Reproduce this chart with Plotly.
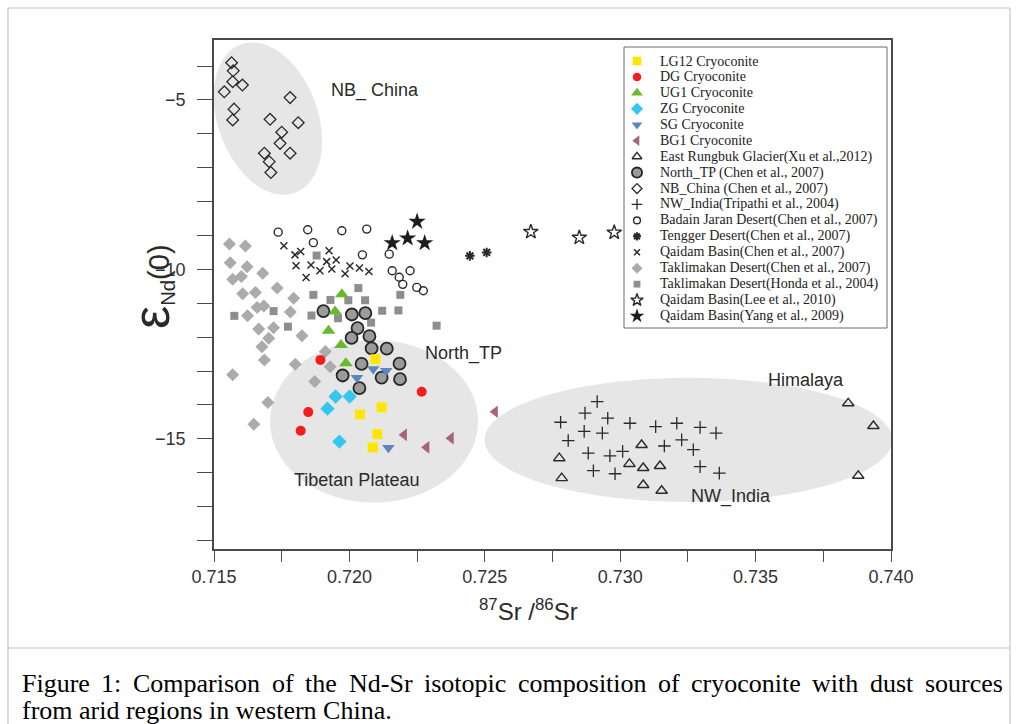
import numpy as np
import plotly.graph_objects as go

# ---------------------------------------------------------------
# 87Sr/86Sr (x) and eNd(0) (y) for every sample group
# ---------------------------------------------------------------
lg12_sr = [0.72096, 0.72039, 0.72119, 0.72103, 0.72086]
lg12_nd = [-12.65, -14.28, -14.07, -14.86, -15.25]

dg_sr = [0.71893, 0.72267, 0.71848, 0.71820]
dg_nd = [-12.67, -13.61, -14.21, -14.76]

ug1_sr = [0.71972, 0.71947, 0.71923, 0.71969, 0.71987]
ug1_nd = [-10.73, -11.24, -11.81, -12.23, -12.77]

zg_sr = [0.71949, 0.72001, 0.71919, 0.71963]
zg_nd = [-13.75, -13.75, -14.11, -15.08]

sg_sr = [0.72088, 0.72136, 0.72028, 0.72144]
sg_nd = [-12.94, -12.99, -13.20, -15.26]

bg1_sr = [0.72202, 0.72285, 0.72375, 0.72538]
bg1_nd = [-14.88, -15.25, -14.98, -14.20]

rungbuk_sr = [0.72775, 0.72784, 0.73079, 0.73034, 0.73085, 0.73147,
              0.73085, 0.73153, 0.73842, 0.73935, 0.73879]
rungbuk_nd = [-15.57, -16.16, -15.18, -15.74, -15.86, -15.80,
              -16.36, -16.53, -13.95, -14.62, -16.09]

north_tp_sr = [0.71904, 0.72009, 0.72059, 0.72030, 0.72008, 0.72074, 0.72082,
               0.72138, 0.72045, 0.72185, 0.71975, 0.72119, 0.72187, 0.72037]
north_tp_nd = [-11.23, -11.33, -11.29, -11.73, -12.02, -11.97, -12.33,
               -12.34, -12.79, -12.78, -13.13, -13.19, -13.24, -13.50]

nb_china_sr = [0.71565, 0.71571, 0.71569, 0.71605, 0.71538, 0.71781, 0.71574, 0.71569,
               0.71707, 0.71811, 0.71750, 0.71744, 0.71781, 0.71686, 0.71704, 0.71710]
nb_china_nd = [-3.90, -4.14, -4.46, -4.56, -4.76, -4.93, -5.27, -5.59,
               -5.57, -5.67, -5.95, -6.28, -6.57, -6.57, -6.82, -7.14]

nw_india_sr = [0.72915, 0.72870, 0.72954, 0.72780, 0.73036, 0.73131, 0.73209, 0.73295,
               0.73354, 0.72867, 0.72934, 0.72808, 0.73227, 0.73163, 0.73270, 0.72882,
               0.72962, 0.73009, 0.73295, 0.73366, 0.72901, 0.72981]
nw_india_nd = [-13.90, -14.24, -14.39, -14.51, -14.54, -14.64, -14.54, -14.66,
               -14.83, -14.78, -14.83, -15.05, -15.03, -15.21, -15.32, -15.42,
               -15.50, -15.37, -15.82, -16.01, -15.94, -16.03]

badain_sr = [0.71737, 0.71846, 0.71972, 0.72064, 0.71867, 0.72048, 0.72147,
             0.72158, 0.72224, 0.72184, 0.72197, 0.72249, 0.72273]
badain_nd = [-8.90, -8.83, -8.86, -8.81, -9.21, -9.57, -9.55,
             -10.04, -10.04, -10.23, -10.44, -10.53, -10.63]

tengger_sr = [0.72445, 0.72507]
tengger_nd = [-9.60, -9.50]

qaidam_chen_sr = [0.71758, 0.71799, 0.71820, 0.71925, 0.71916, 0.71951, 0.71803, 0.71858,
                  0.71891, 0.71935, 0.71840, 0.71984, 0.72002, 0.72037, 0.72072]
qaidam_chen_nd = [-9.30, -9.57, -9.47, -9.45, -9.77, -9.72, -9.89, -9.87,
                  -10.04, -9.99, -10.24, -10.13, -9.90, -9.96, -10.06]

takla_chen_sr = [0.71557, 0.71616, 0.71560, 0.71622, 0.71569, 0.71601, 0.71680,
                 0.71733, 0.71606, 0.71653, 0.71794, 0.71659, 0.71684, 0.71624,
                 0.71782, 0.71665, 0.71720, 0.71702, 0.71825, 0.71677, 0.71686,
                 0.71800, 0.71569, 0.71872, 0.71911, 0.71929, 0.71699, 0.71647]
takla_chen_nd = [-9.25, -9.31, -9.80, -9.92, -10.29, -10.21, -10.11,
                 -10.55, -10.72, -10.68, -10.85, -11.12, -11.08, -11.37,
                 -11.26, -11.76, -11.72, -12.03, -11.96, -12.28, -12.67,
                 -12.80, -13.11, -13.31, -12.42, -12.87, -13.93, -14.57]

takla_honda_sr = [0.71879, 0.72033, 0.71867, 0.71930, 0.71996, 0.72058, 0.72188, 0.71575,
                  0.71720, 0.71860, 0.71958, 0.72121, 0.72181, 0.72080, 0.71773, 0.72322]
takla_honda_nd = [-9.59, -10.55, -10.75, -10.90, -10.91, -10.91, -10.75, -11.37,
                  -11.23, -11.36, -11.44, -11.22, -11.21, -11.57, -11.69, -11.66]

qaidam_lee_sr = [0.72670, 0.72849, 0.72978]
qaidam_lee_nd = [-8.89, -9.06, -8.91]

qaidam_yang_sr = [0.72250, 0.72158, 0.72215, 0.72278]
qaidam_yang_nd = [-8.59, -9.22, -9.08, -9.22]

# source-region outlines: centre (Sr, Nd), half-widths (Sr, Nd), tilt in degrees
region_nb_china = dict(cx=0.71699, cy=-5.55, rx=0.001846, ry=2.33, tilt=20)
region_tibet = dict(cx=0.72091, cy=-14.48, rx=0.00384, ry=2.40, tilt=0)
region_nw_india = dict(cx=0.73252, cy=-15.03, rx=0.00753, ry=1.83, tilt=0)

# ---------------------------------------------------------------
# page geometry
# ---------------------------------------------------------------
W, H = 1017, 724
M_L, M_R, M_T, M_B = 214, 126, 40, 175
PLOT_W = W - M_L - M_R
PLOT_H = H - M_T - M_B
X_RANGE = [0.715, 0.740]
Y_RANGE = [-18.25, -3.23]

SANS = "Liberation Sans, Arial, Helvetica, sans-serif"
SERIF = "Liberation Serif, Times New Roman, serif"
INK = "#2a2a2a"
AXIS = "#4a4a4a"


def pap_x(px):
    return (px - M_L) / PLOT_W


def pap_y(py):
    return (H - M_B - py) / PLOT_H


def ellipse_path(cx, cy, rx, ry, tilt, n=160):
    kx = PLOT_W / (X_RANGE[1] - X_RANGE[0])
    ky = PLOT_H / (Y_RANGE[1] - Y_RANGE[0])
    t = np.linspace(0, 2 * np.pi, n, endpoint=False)
    u = rx * kx * np.cos(t)
    v = ry * ky * np.sin(t)
    a = np.radians(tilt)
    pu = u * np.cos(a) - v * np.sin(a)
    pv = u * np.sin(a) + v * np.cos(a)
    xs = cx + pu / kx
    ys = cy + pv / ky
    return "M " + " L ".join(f"{x:.6f},{y:.4f}" for x, y in zip(xs, ys)) + " Z"


# marker styles per group
def filled(symbol, size, color, line_color=None, line_width=0):
    return dict(symbol=symbol, size=size, color=color,
                line=dict(color=line_color or color, width=line_width))


def hollow(symbol, size, width=1.4):
    return dict(symbol=symbol, size=size, color=INK, line=dict(color=INK, width=width))


series = [
    # (legend text, x, y, marker, legend order)
    ("Taklimakan Desert(Chen et al., 2007)", takla_chen_sr, takla_chen_nd,
     filled("diamond", 10, "#ababab"), 13),
    ("Taklimakan Desert(Honda et al., 2004)", takla_honda_sr, takla_honda_nd,
     filled("square", 8, "#8e8e8e"), 14),
    ("Qaidam Basin(Chen et al., 2007)", qaidam_chen_sr, qaidam_chen_nd,
     hollow("x-thin-open", 7, 1.5), 12),
    ("Badain Jaran Desert(Chen et al., 2007)", badain_sr, badain_nd,
     hollow("circle-open", 8, 1.4), 10),
    ("Tengger Desert(Chen et al., 2007)", tengger_sr, tengger_nd,
     hollow("asterisk-open", 8, 2.0), 11),
    ("Qaidam Basin(Lee et al., 2010)", qaidam_lee_sr, qaidam_lee_nd,
     hollow("star-open", 11, 1.4), 15),
    ("Qaidam Basin(Yang et al., 2009)", qaidam_yang_sr, qaidam_yang_nd,
     filled("star", 13, "#1e1e1e"), 16),
    ("NB_China (Chen et al., 2007)", nb_china_sr, nb_china_nd,
     hollow("diamond-open", 9, 1.3), 8),
    ("NW_India(Tripathi et al., 2004)", nw_india_sr, nw_india_nd,
     hollow("cross-thin-open", 9, 1.3), 9),
    ("East Rungbuk Glacier(Xu et al.,2012)", rungbuk_sr, rungbuk_nd,
     hollow("triangle-up-open", 10, 1.4), 6),
    ("North_TP (Chen et al., 2007)", north_tp_sr, north_tp_nd,
     filled("circle", 12, "#9b9b9b", "#262626", 1.8), 7),
    ("BG1 Cryoconite", bg1_sr, bg1_nd, filled("triangle-left", 11, "#a8617f"), 5),
    ("SG Cryoconite", sg_sr, sg_nd, filled("triangle-down", 11, "#5a87c4"), 4),
    ("ZG Cryoconite", zg_sr, zg_nd, filled("diamond", 11, "#35c6ee"), 3),
    ("UG1 Cryoconite", ug1_sr, ug1_nd, filled("triangle-up", 12, "#68b92c"), 2),
    ("DG Cryoconite", dg_sr, dg_nd, filled("circle", 10, "#f51d1d"), 1),
    ("LG12 Cryoconite", lg12_sr, lg12_nd, filled("square", 10, "#ffe600"), 0),
]

fig = go.Figure()

for name, xs, ys, marker, _ in series:
    fig.add_trace(go.Scatter(x=xs, y=ys, mode="markers", name=name,
                             marker=marker, showlegend=False, hoverinfo="x+y+name"))

# ---------------------------------------------------------------
# legend panel drawn on an overlay axis spanning the plot area
# ---------------------------------------------------------------
LEG_LEFT, LEG_RIGHT, LEG_TOP, LEG_BOTTOM = 624, 887, 47, 328
ROW0, ROW_STEP = 61, 15.94
MARK_X, TEXT_X = 637, 659

for name, _, _, marker, order in series:
    row_y = pap_y(ROW0 + ROW_STEP * order)
    m = dict(marker)
    m["size"] = marker["size"] * 0.85
    fig.add_trace(go.Scatter(x=[pap_x(MARK_X)], y=[row_y], mode="markers",
                             marker=m, xaxis="x2", yaxis="y2",
                             showlegend=False, hoverinfo="skip"))

annotations = []
for name, _, _, _, order in series:
    annotations.append(dict(
        x=pap_x(TEXT_X), y=pap_y(ROW0 + ROW_STEP * order), xref="paper", yref="paper",
        xanchor="left", yanchor="middle", showarrow=False, text=name, borderpad=0,
        font=dict(family=SERIF, size=14, color="#222")))

# region labels
region_labels = [
    ("NB_ China", 0.72095, -4.71),
    ("North_TP", 0.72423, -12.49),
    ("Tibetan Plateau", 0.72028, -16.21),
    ("Himalaya", 0.73686, -13.26),
    ("NW_India", 0.73409, -16.71),
]
for text, lx, ly in region_labels:
    annotations.append(dict(x=lx, y=ly, xref="x", yref="y", text=text, showarrow=False,
                            font=dict(family=SANS, size=18, color=INK)))

# axis titles
annotations.append(dict(
    x=pap_x(151), y=pap_y(287), xref="paper", yref="paper", textangle=-90,
    showarrow=False, xanchor="center", yanchor="middle",
    text="<span style='font-size:52px'>ε</span><sub>Nd</sub>(0)",
    font=dict(family=SANS, size=29, color=INK)))
annotations.append(dict(
    x=pap_x(528), y=pap_y(610), xref="paper", yref="paper", showarrow=False,
    xanchor="center", yanchor="middle",
    text="<sup>87</sup>Sr /<sup>86</sup>Sr",
    font=dict(family=SANS, size=24, color=INK)))

# ---------------------------------------------------------------
# caption, first line justified to the panel width
# ---------------------------------------------------------------
caption_lines = [
    "Figure 1: Comparison of the Nd-Sr isotopic composition of cryoconite with dust sources",
    "from arid regions in western China.",
]
CAP_SIZE = 26
CAP_LEFT, CAP_RIGHT = 22, 1003
CAP_Y = [683, 710]
TIMES_W = {
    " ": 250, "a": 444, "b": 500, "c": 444, "d": 500, "e": 444, "f": 333, "g": 500,
    "h": 500, "i": 278, "j": 278, "k": 500, "l": 278, "m": 778, "n": 500, "o": 500,
    "p": 500, "q": 500, "r": 333, "s": 389, "t": 278, "u": 500, "v": 500, "w": 722,
    "x": 500, "y": 500, "z": 444, "C": 667, "F": 556, "N": 722, "S": 556, "1": 500,
    ":": 278, "-": 333, ".": 250, ",": 250,
}


def word_width(word):
    return sum(TIMES_W.get(c, 500) for c in word) / 1000 * CAP_SIZE


words = caption_lines[0].split(" ")
widths = [word_width(w) for w in words]
gap = (CAP_RIGHT - CAP_LEFT - sum(widths)) / (len(words) - 1)
cursor = CAP_LEFT
for w, wd in zip(words, widths):
    annotations.append(dict(x=pap_x(cursor), y=pap_y(CAP_Y[0]), xref="paper", yref="paper",
                            xanchor="left", yanchor="middle", showarrow=False, text=w,
                            borderpad=0, borderwidth=0,
                            font=dict(family=SERIF, size=CAP_SIZE, color="#000")))
    cursor += wd + gap
annotations.append(dict(x=pap_x(CAP_LEFT), y=pap_y(CAP_Y[1]), xref="paper", yref="paper",
                        xanchor="left", yanchor="middle", showarrow=False,
                        text=caption_lines[1], borderpad=0, borderwidth=0,
                        font=dict(family=SERIF, size=CAP_SIZE, color="#000")))

# ---------------------------------------------------------------
# shapes: source-region ellipses, legend box, page frame
# ---------------------------------------------------------------
shapes = []
for reg in (region_nb_china, region_tibet, region_nw_india):
    shapes.append(dict(type="path", xref="x", yref="y", layer="below",
                       path=ellipse_path(**reg), fillcolor="#e6e6e6",
                       line=dict(width=0)))
shapes.append(dict(type="rect", xref="paper", yref="paper", layer="below",
                   x0=pap_x(LEG_LEFT), x1=pap_x(LEG_RIGHT),
                   y0=pap_y(LEG_BOTTOM), y1=pap_y(LEG_TOP),
                   fillcolor="white", line=dict(color="#6a6a6a", width=1)))
FRAME = dict(color="#c4c4c4", width=1.2)
shapes += [
    dict(type="line", xref="paper", yref="paper", x0=pap_x(8), x1=pap_x(1010),
         y0=pap_y(8), y1=pap_y(8), line=FRAME),
    dict(type="line", xref="paper", yref="paper", x0=pap_x(8), x1=pap_x(1010),
         y0=pap_y(648), y1=pap_y(648), line=FRAME),
    dict(type="line", xref="paper", yref="paper", x0=pap_x(8), x1=pap_x(8),
         y0=pap_y(8), y1=pap_y(740), line=FRAME),
    dict(type="line", xref="paper", yref="paper", x0=pap_x(1010), x1=pap_x(1010),
         y0=pap_y(8), y1=pap_y(740), line=FRAME),
]

axis_common = dict(ticks="outside", tickwidth=1.2, tickcolor=AXIS,
                   showline=True, linecolor=AXIS, linewidth=1.6, mirror=True,
                   showgrid=False, zeroline=False,
                   tickfont=dict(family=SANS, size=18, color="#333"))

fig.update_layout(
    width=W, height=H,
    margin=dict(l=M_L, r=M_R, t=M_T, b=M_B, autoexpand=False),
    paper_bgcolor="white", plot_bgcolor="white",
    showlegend=False,
    xaxis=dict(range=X_RANGE, tick0=0.715, dtick=0.005, tickformat=".3f", ticklen=11,
               minor=dict(ticks="outside", ticklen=11, dtick=0.0025, tickcolor=AXIS,
                          tickwidth=1.2),
               **axis_common),
    yaxis=dict(range=Y_RANGE, tick0=0, dtick=5, ticklen=15, ticklabelstandoff=8,
               minor=dict(ticks="outside", ticklen=15, dtick=1, tickcolor=AXIS,
                          tickwidth=1.2),
               **axis_common),
    xaxis2=dict(overlaying="x", range=[0, 1], visible=False),
    yaxis2=dict(overlaying="y", range=[0, 1], visible=False),
    annotations=annotations,
    shapes=shapes,
)

fig.write_html("out.html")
